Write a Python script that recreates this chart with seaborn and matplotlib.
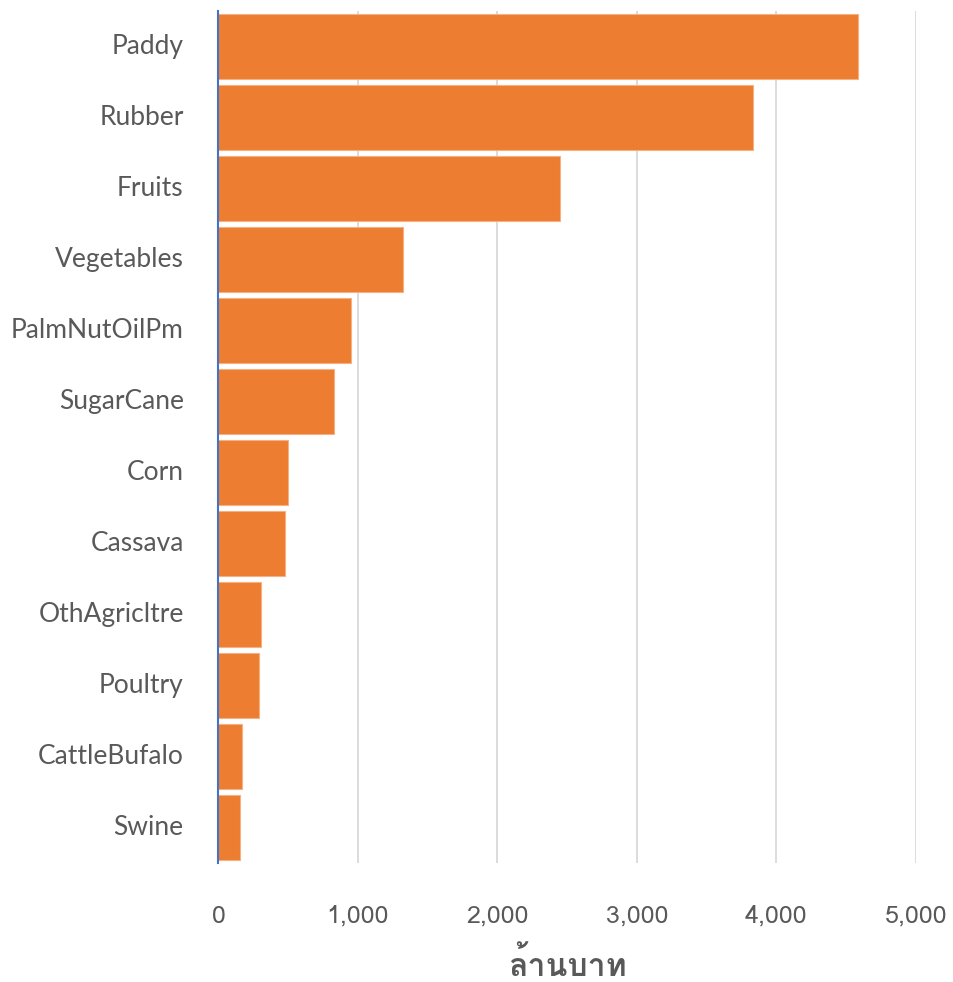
import matplotlib
matplotlib.use("Agg")
import matplotlib.pyplot as plt
from matplotlib import font_manager
from matplotlib.ft2font import FT2Font
from matplotlib.ticker import FuncFormatter
import seaborn as sns
import pandas as pd

# Agricultural output value, million baht
categories = ["Paddy", "Rubber", "Fruits", "Vegetables", "PalmNutOilPm", "SugarCane",
              "Corn", "Cassava", "OthAgricltre", "Poultry", "CattleBufalo", "Swine"]
values = [4586, 3835, 2449, 1322, 949, 831, 497, 480, 305, 289, 169, 154]
x_ticks = [0, 1000, 2000, 3000, 4000, 5000]
x_label = "ล้านบาท"

df = pd.DataFrame({"category": categories, "value": values})


def thai_font():
    """Find an installed family that can render Thai script."""
    seen = set()
    for f in font_manager.fontManager.ttflist:
        if f.name in seen:
            continue
        seen.add(f.name)
        try:
            cmap = FT2Font(f.fname).get_charmap()
        except Exception:
            continue
        if 0x0E25 in cmap and 0x0E17 in cmap:
            return f.name
    return None


sns.set_theme(style="whitegrid")
plt.rcParams["font.family"] = ["Lato", "DejaVu Sans"]
thai = thai_font()
thai_family = [thai, "DejaVu Sans"] if thai else ["DejaVu Sans"]

fig = plt.figure(figsize=(9.54, 9.82), dpi=100)
ax = fig.add_axes([0.229, 0.121, 0.731, 0.868])

sns.barplot(data=df, y="category", x="value", orient="h", color="#ED7D31",
            saturation=1, width=0.91, edgecolor="#F4B183", linewidth=0.8, ax=ax)

ax.set_xlim(0, 5000)
ax.set_ylim(len(categories) - 0.5, -0.5)
ax.set_xticks(x_ticks)
ax.xaxis.set_major_formatter(FuncFormatter(lambda v, p: f"{int(v):,}"))

ax.grid(axis="x", color="#D9D9D9", linewidth=1.3)
ax.grid(axis="y", visible=False)
ax.set_axisbelow(True)
for side in ["top", "right", "bottom"]:
    ax.spines[side].set_visible(False)
ax.spines["left"].set_color("#4472C4")
ax.spines["left"].set_linewidth(1.5)

ax.tick_params(axis="y", length=0, pad=25, labelsize=19, labelcolor="#595959")
ax.tick_params(axis="x", length=0, pad=30, labelsize=18, labelcolor="#595959")
for lbl in ax.get_yticklabels():
    lbl.set_verticalalignment("center")
for lbl in ax.get_xticklabels():
    lbl.set_family(thai_family)
    lbl.set_fontstretch("condensed")

ax.set_ylabel("")
ax.set_xlabel(x_label, family=thai_family, fontsize=23, fontweight="bold",
              color="#595959", labelpad=14)

fig.savefig("out.png", dpi=100)
